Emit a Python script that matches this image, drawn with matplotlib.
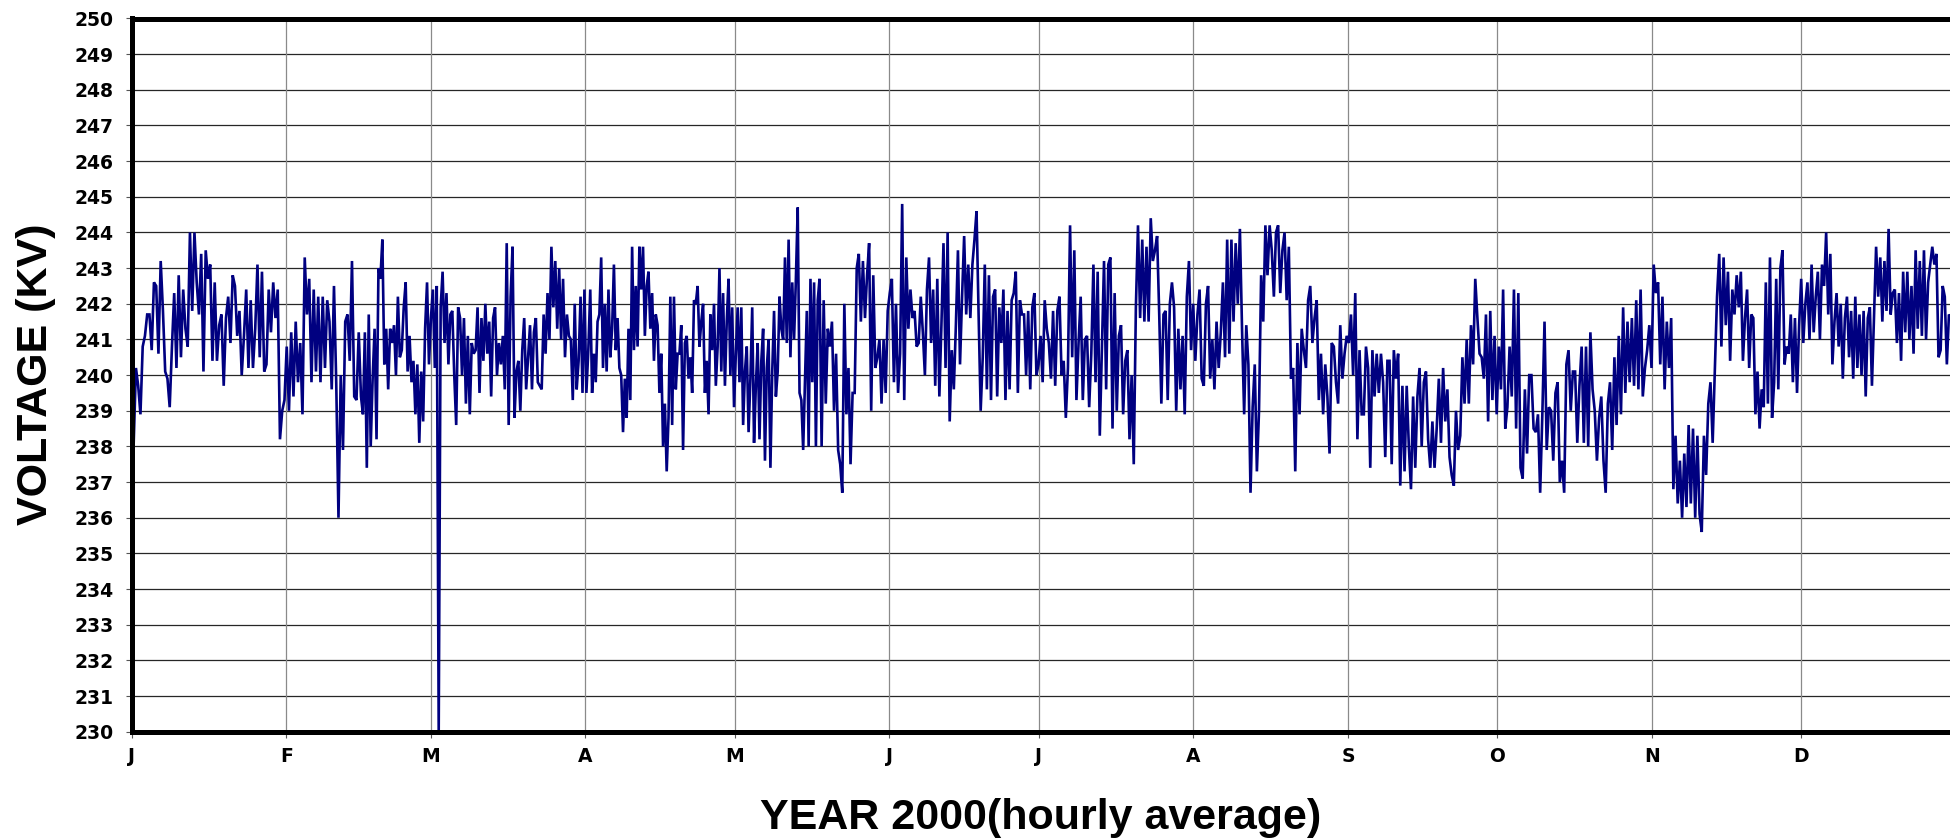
"""
Hourly-average bus voltage for the year 2000, redrawn from the scanned chart.
"""

import numpy as np
import matplotlib
matplotlib.use("Agg")
import matplotlib.pyplot as plt

# month starts (day of year 2000) and their one-letter labels
month_days = [0, 31, 60, 91, 121, 152, 182, 213, 244, 274, 305, 335]
month_labels = ["J", "F", "M", "A", "M", "J", "J", "A", "S", "O", "N", "D"]

# voltage readings (kV) in eight stretches of ~46 days
jan_feb = [238.1, 240.2, 239.7, 238.9, 240.8, 241.1, 241.7, 241.7, 240.7, 242.6, 242.5, 240.6, 243.2,
           241.8, 240.1, 239.9, 239.1, 240.8, 242.3, 240.2, 242.8, 240.5, 242.4, 241.3, 240.8, 244.0,
           241.8, 244.0, 242.6, 241.7, 243.4, 240.1, 243.5, 242.7, 243.1, 240.4, 242.6, 240.4, 241.4,
           241.7, 239.7, 241.6, 242.2, 240.9, 242.8, 242.5, 241.1, 241.8, 240.0, 241.1, 242.4, 240.2,
           242.1, 240.2, 241.3, 243.1, 240.5, 242.9, 240.1, 240.3, 242.4, 241.2, 242.6, 241.6, 242.4,
           238.2, 239.0, 239.3, 240.8, 239.0, 241.2, 239.4, 241.5, 239.8, 240.9, 238.9, 243.3, 241.7,
           242.7, 239.8, 242.4, 240.1, 242.2, 239.8, 242.2, 240.2, 242.1, 241.5, 239.6, 242.5, 239.8,
           236.0, 240.0, 237.9, 241.5, 241.7, 240.4, 243.2, 239.4, 239.3, 241.2]
feb_mar = [239.4, 238.9, 241.2, 237.4, 241.7, 238.0, 239.9, 241.3, 238.2, 243.0, 242.7, 243.8, 240.3,
           241.3, 239.6, 241.3, 240.9, 241.4, 240.0, 242.2, 240.5, 240.7, 241.9, 242.6, 240.1, 241.1,
           239.8, 240.4, 238.9, 240.3, 238.1, 240.1, 238.7, 241.3, 242.6, 240.3, 241.6, 242.4, 240.2,
           242.5, 230.0, 241.9, 242.9, 240.9, 242.3, 240.3, 241.7, 241.8, 240.0, 238.6, 241.9, 241.6,
           240.0, 241.6, 239.2, 241.1, 238.9, 240.9, 240.6, 240.7, 241.9, 239.5, 241.6, 240.4, 242.0,
           240.6, 241.5, 239.4, 241.6, 241.9, 240.0, 240.9, 240.3, 241.1, 239.6, 243.7, 238.6, 242.2,
           243.6, 238.8, 240.1, 240.4, 239.0, 240.7, 241.6, 239.6, 240.5, 241.4, 239.6, 241.2, 241.6,
           239.8, 239.7, 239.6, 241.7, 240.6, 242.3, 241.0, 243.6, 241.9, 243.2, 241.3, 243.0, 241.0,
           242.7, 240.5, 241.7, 241.1, 241.0, 239.3, 242.0, 239.6, 240.4, 242.2, 239.5, 242.4, 239.5,
           240.7]
apr_may = [242.4, 239.5, 240.6, 239.8, 241.5, 241.7, 243.3, 240.2, 242.0, 240.1, 242.4, 240.5, 241.3,
           243.1, 240.7, 241.6, 240.2, 240.0, 238.4, 239.9, 238.8, 241.3, 239.3, 243.6, 240.7, 242.5,
           240.8, 243.6, 242.4, 243.6, 241.1, 242.5, 242.9, 241.3, 242.3, 240.4, 241.7, 241.4, 239.5,
           240.6, 238.0, 239.2, 237.3, 238.8, 242.2, 238.6, 242.2, 239.6, 240.6, 240.6, 241.4, 237.9,
           240.9, 241.1, 239.9, 240.5, 239.5, 242.1, 242.0, 242.5, 240.8, 241.5, 242.0, 239.5, 240.4,
           238.9, 241.7, 240.7, 242.0, 239.7, 240.8, 243.0, 240.1, 242.3, 239.7, 241.5, 242.7, 240.0,
           241.9, 239.1, 240.6, 241.9, 239.8, 241.9, 238.6, 240.1, 240.8, 238.4, 239.9, 241.9, 238.1,
           239.7, 240.9, 238.2, 240.4, 241.3, 237.6, 240.2, 241.0, 237.4, 240.1, 241.8, 239.4, 240.1,
           242.2, 241.3, 241.0, 243.3, 240.9, 243.8, 240.5, 242.6, 241.0, 242.7, 244.7, 239.5, 239.3,
           237.9, 239.8, 241.8, 238.0, 242.7, 239.8, 242.6, 238.0, 242.1]
may_jul = [242.7, 238.0, 242.1, 239.2, 241.3, 240.8, 241.5, 239.0, 240.6, 237.9, 237.5, 236.7, 242.0,
           238.9, 240.2, 237.5, 239.5, 239.5, 243.0, 243.4, 241.5, 243.2, 241.6, 242.8, 243.7, 239.0,
           242.8, 240.2, 240.5, 241.0, 239.2, 241.0, 239.5, 241.8, 242.3, 242.7, 239.8, 242.0, 239.5,
           240.6, 244.8, 239.3, 243.3, 241.3, 242.4, 241.6, 241.8, 240.8, 240.9, 242.2, 241.2, 240.0,
           242.4, 243.3, 240.9, 242.4, 239.7, 242.7, 239.4, 241.4, 243.7, 240.2, 244.0, 238.7, 240.7,
           239.6, 241.4, 243.5, 240.3, 242.2, 243.9, 241.7, 243.1, 241.6, 243.1, 243.8, 244.6, 241.7,
           239.0, 240.5, 243.1, 239.6, 242.8, 239.3, 242.2, 242.4, 239.4, 241.9, 240.9, 242.4, 239.3,
           241.8, 239.6, 242.1, 242.3, 242.9, 239.5, 242.1, 241.7, 241.7, 240.0, 241.8, 239.6, 241.9,
           242.3, 240.0, 240.3, 241.1, 239.8, 242.1, 241.3]
jul_aug = [240.9, 239.9, 241.8, 239.7, 241.8, 242.2, 240.0, 240.4, 238.8, 240.2, 244.2, 240.5, 243.5,
           239.3, 240.9, 242.2, 239.3, 241.0, 241.1, 239.1, 240.6, 243.1, 239.8, 242.9, 238.3, 240.7,
           243.2, 239.6, 243.1, 243.3, 238.5, 242.3, 239.0, 241.1, 241.4, 238.9, 240.4, 240.7, 238.2,
           240.0, 237.5, 241.9, 244.2, 241.6, 243.8, 241.5, 243.6, 241.5, 244.4, 243.2, 243.5, 243.9,
           241.7, 239.2, 241.7, 241.8, 239.3, 242.0, 242.6, 241.9, 239.0, 241.3, 239.6, 241.1, 238.9,
           242.2, 243.2, 240.7, 242.0, 240.4, 241.7, 242.4, 239.9, 239.7, 242.0, 242.5, 239.9, 241.0,
           239.6, 241.5, 240.2, 241.2, 242.6, 240.5, 243.8, 240.6, 243.8, 241.5, 243.7, 242.0, 244.1,
           241.3, 238.9, 241.4, 240.3, 236.7, 239.1, 240.3, 237.3, 239.0, 242.8, 241.5, 244.2, 242.8,
           244.2, 243.5, 242.2, 244.0]
aug_oct = [244.2, 242.3, 243.5, 244.0, 242.1, 243.6, 239.9, 240.2, 237.3, 240.9, 238.9, 241.3, 240.7,
           240.2, 242.1, 242.5, 240.9, 241.6, 242.1, 239.3, 240.6, 238.9, 240.3, 239.4, 237.8, 240.9,
           240.8, 239.8, 239.2, 241.4, 239.9, 240.6, 241.1, 240.9, 241.7, 240.0, 242.3, 238.2, 240.7,
           238.9, 238.9, 240.8, 240.2, 237.4, 240.7, 239.4, 240.6, 239.5, 240.6, 239.8, 237.7, 240.4,
           240.4, 237.5, 240.7, 239.9, 240.6, 236.9, 239.7, 237.3, 239.7, 238.0, 236.8, 239.4, 237.4,
           239.4, 240.2, 238.0, 239.8, 240.1, 238.2, 237.4, 238.7, 237.4, 238.5, 239.9, 238.1, 240.2,
           238.7, 239.6, 237.7, 237.2, 236.9, 239.0, 237.9, 238.3, 240.5, 239.2, 241.0, 239.2, 241.4,
           240.3, 242.7, 241.6, 240.6, 240.5, 239.9, 241.7, 238.7, 241.8, 239.3, 241.1, 238.9, 240.8,
           239.6, 242.4, 238.5]
oct_nov = [239.1, 240.8, 239.4, 242.4, 238.5, 242.3, 237.4, 237.1, 239.6, 237.8, 240.0, 240.0, 238.5,
           238.4, 238.9, 236.7, 238.9, 241.5, 237.9, 239.1, 239.0, 237.6, 239.5, 239.8, 237.0, 237.6,
           236.7, 240.3, 240.7, 239.0, 240.1, 240.1, 238.1, 239.7, 240.8, 238.1, 240.8, 238.0, 241.2,
           239.6, 239.0, 237.6, 238.8, 239.4, 237.6, 236.7, 239.2, 239.8, 237.9, 240.5, 238.6, 241.1,
           238.9, 241.9, 239.5, 241.5, 239.8, 241.6, 239.7, 242.1, 239.6, 242.4, 239.4, 240.2, 240.7,
           241.4, 240.2, 243.1, 242.3, 242.6, 240.3, 242.2, 239.6, 241.5, 240.2, 241.6, 236.8, 238.3,
           236.4, 237.6, 236.0, 237.8, 236.3, 238.6, 236.4, 238.5, 236.0, 238.3, 236.1, 235.6, 238.3,
           237.2, 239.2, 239.8, 238.1, 240.2, 242.2, 243.4, 240.8, 243.3, 241.4, 242.9, 240.4, 242.4,
           241.7]
nov_dec = [242.8, 241.9, 242.9, 240.4, 241.6, 242.4, 240.2, 241.7, 241.6, 238.9, 240.1, 238.5, 239.6,
           239.1, 242.6, 239.2, 243.3, 238.8, 239.8, 242.7, 239.6, 243.0, 243.5, 240.3, 240.8, 240.6,
           241.7, 239.8, 241.6, 239.5, 241.4, 242.7, 240.9, 242.0, 242.6, 241.0, 243.1, 241.2, 242.2,
           242.9, 241.0, 243.1, 242.5, 244.0, 241.7, 243.4, 240.3, 241.5, 242.3, 240.8, 242.0, 239.9,
           241.6, 242.2, 240.5, 241.8, 239.9, 242.2, 240.2, 241.7, 240.0, 241.8, 239.4, 241.6, 241.9,
           239.7, 241.6, 243.6, 242.2, 243.3, 241.5, 243.2, 241.8, 244.1, 241.7, 242.3, 242.4, 240.9,
           242.3, 240.4, 242.9, 241.2, 242.9, 241.0, 242.5, 240.6, 243.5, 241.3, 243.2, 241.1, 243.5,
           241.0, 242.6, 243.1, 243.6, 243.1, 243.4, 240.5, 240.7, 242.5, 242.2, 240.3, 241.7, 241.6]

# day-of-year span each stretch covers
stretches = [(jan_feb, 0.4, 46), (feb_mar, 46, 92), (apr_may, 92, 138), (may_jul, 138, 184),
             (jul_aug, 184, 230), (aug_oct, 230, 276), (oct_nov, 276, 322), (nov_dec, 322, 365)]

days = []
volts = []
for i, (vals, d0, d1) in enumerate(stretches):
    last = i == len(stretches) - 1
    days.append(np.linspace(d0, d1, len(vals), endpoint=last))
    volts.append(np.array(vals))
days = np.concatenate(days)
volts = np.concatenate(volts)

W, H = 1950, 840
fig = plt.figure(figsize=(W / 100, H / 100), dpi=100)
ax = fig.add_axes([131.7 / W, 1 - 731.7 / H, (1956 - 131.7) / W, (731.7 - 18.5) / H])

ax.plot(days, volts, color="#000080", lw=1.9, solid_joinstyle="miter", zorder=3)

ax.set_xlim(0, 366)
ax.set_ylim(230, 250)
ax.set_yticks(np.arange(230, 251, 1))
ax.set_xticks(month_days)
ax.set_xticklabels(month_labels)

# grid: dark horizontal rules, lighter month dividers
for v in range(231, 250):
    ax.axhline(v, color="#262626", lw=0.9, zorder=1)
for d in month_days[1:]:
    ax.axvline(d, color="#8a8a8a", lw=0.9, zorder=1)

for s in ax.spines.values():
    s.set_linewidth(3.6)
    s.set_color("black")
    s.set_zorder(4)

ax.tick_params(axis="both", direction="out", length=4, width=0.8, color="#555555")
ax.tick_params(axis="y", pad=9)
ax.tick_params(axis="x", pad=7)
for lab in ax.get_yticklabels() + ax.get_xticklabels():
    lab.set_fontfamily("DejaVu Sans")
    lab.set_fontweight("bold")
    lab.set_fontsize(13.5)

fig.text(36 / W, 1 - 374 / H, "VOLTAGE (KV)", rotation=90, ha="center", va="center",
         fontsize=31, fontweight="bold", family=["Liberation Sans", "DejaVu Sans"])
fig.text(1041 / W, 1 - 829 / H, "YEAR 2000(hourly average)", ha="center", va="baseline",
         fontsize=31, fontweight="bold", family=["Liberation Sans", "DejaVu Sans"])

fig.savefig("out.png", dpi=100)
